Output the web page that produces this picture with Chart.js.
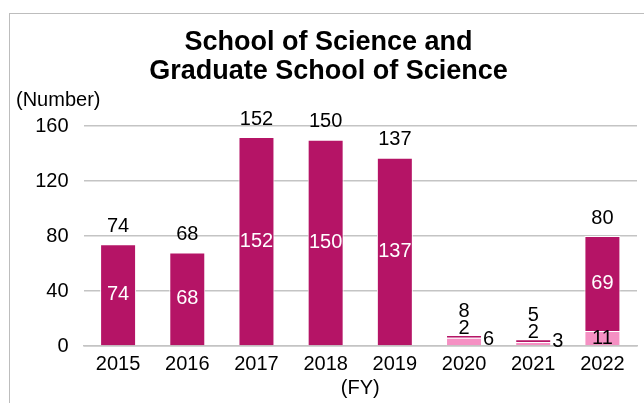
<!DOCTYPE html>
<html lang="en">
<head>
    <meta charset="UTF-8">
    <title>School of Science and Graduate School of Science</title>
    <script src="https://cdn.jsdelivr.net/npm/chart.js"></script>
    <style>
        body { margin: 0; background: #fff; }
        #wrap { position: relative; width: 644px; height: 403px; }
        #frame { position: absolute; left: 9px; top: 13px; right: 0; bottom: 0;
                 border-left: 1.5px solid #bdbdbd; border-top: 1.5px solid #bdbdbd; }
    </style>
</head>
<body>
<div id="wrap">
    <div id="frame"></div>
    <canvas id="chart"></canvas>
</div>

<script>

// 연도별 인원 (아래: 연분홍, 위: 진분홍)
const years         = ['2015', '2016', '2017', '2018', '2019', '2020', '2021', '2022'];
const pinkCounts    = [0, 0, 0, 0, 0, 6, 3, 11];
const magentaCounts = [74, 68, 152, 150, 137, 2, 2, 69];
const totals        = [74, 68, 152, 150, 137, 8, 5, 80];
const yTicks        = [0, 40, 80, 120, 160];

const FONT = '"Liberation Sans", Arial, sans-serif';

// 막대 위/안 숫자 라벨
const barLabels = {
    id: 'barLabels',
    afterDatasetsDraw(chart) {
        const ctx = chart.ctx;
        const pinkMeta = chart.getDatasetMeta(0);
        const magMeta  = chart.getDatasetMeta(1);
        ctx.save();
        ctx.font = '20px ' + FONT;
        ctx.textBaseline = 'middle';
        years.forEach((yr, i) => {
            const p = pinkMeta.data[i];
            const m = magMeta.data[i];
            const top = Math.min(m.y, p.y);
            let totalOffset = 18;

            if (pinkCounts[i] > 0) {
                const h = p.base - p.y;
                ctx.fillStyle = '#000';
                if (h >= 12) {
                    ctx.textAlign = 'center';
                    ctx.fillText(pinkCounts[i], p.x, (p.y + p.base) / 2);
                } else {
                    ctx.textAlign = 'left';
                    ctx.fillText(pinkCounts[i], p.x + p.width / 2 + 1, (p.y + p.base) / 2 - 2);
                }
            }
            if (magentaCounts[i] > 0) {
                const h = m.base - m.y;
                ctx.textAlign = 'center';
                if (h >= 22) {
                    ctx.fillStyle = '#fff';
                    ctx.fillText(magentaCounts[i], m.x, (m.y + m.base) / 2);
                } else {
                    ctx.fillStyle = '#000';
                    ctx.fillText(magentaCounts[i], m.x, top - 7);
                    totalOffset = 24;
                }
            }
            ctx.fillStyle = '#000';
            ctx.textAlign = 'center';
            ctx.fillText(totals[i], m.x, top - totalOffset);
        });

        // 단위 표시
        ctx.textAlign = 'left';
        ctx.fillText('(Number)', chart.chartArea.left - 67.5, chart.chartArea.top - 26);
        ctx.restore();
    }
};

new Chart(document.getElementById('chart'), {
    type: 'bar',
    data: {
        labels: years,
        datasets: [{
            data: pinkCounts,
            backgroundColor: '#f590c3',
            borderColor: '#fff',
            borderWidth: 1,
            categoryPercentage: 1,
            barPercentage: 0.52
        }, {
            data: magentaCounts,
            backgroundColor: '#b51466',
            borderColor: '#fff',
            borderWidth: 1,
            categoryPercentage: 1,
            barPercentage: 0.52
        }]
    },
    options: {
        responsive: true,
        maintainAspectRatio: false,
        animation: false,
        layout: { padding: { left: 20, right: 7, top: 0, bottom: 0 } },
        plugins: {
            legend: { display: false },
            tooltip: { enabled: false },
            title: {
                display: true,
                text: ['School of Science and', 'Graduate School of Science'],
                color: '#000',
                font: { family: FONT, size: 27, weight: 'bold', lineHeight: 1.075 },
                padding: { top: 28.5, bottom: 39.5 }
            }
        },
        scales: {
            x: {
                stacked: true,
                grid: { display: false, drawTicks: false },
                border: { display: true, color: '#c4c4c4', width: 1.5 },
                ticks: { color: '#000', font: { family: FONT, size: 20 }, padding: 6 },
                title: {
                    display: true, text: '(FY)', color: '#000',
                    font: { family: FONT, size: 20 }, padding: { top: 0, bottom: 3 }
                },
                afterFit(scale) { scale.height = 57; }
            },
            y: {
                stacked: true,
                min: 0,
                max: 160,
                afterBuildTicks(scale) { scale.ticks = yTicks.map(v => ({ value: v })); },
                grid: { color: '#c4c4c4', lineWidth: 1.5, drawTicks: false },
                border: { display: false },
                ticks: { color: '#000', font: { family: FONT, size: 20 }, padding: 15 },
                afterFit(scale) { scale.width = 63.5; }
            }
        }
    },
    plugins: [barLabels]
});

</script>
</body>
</html>
